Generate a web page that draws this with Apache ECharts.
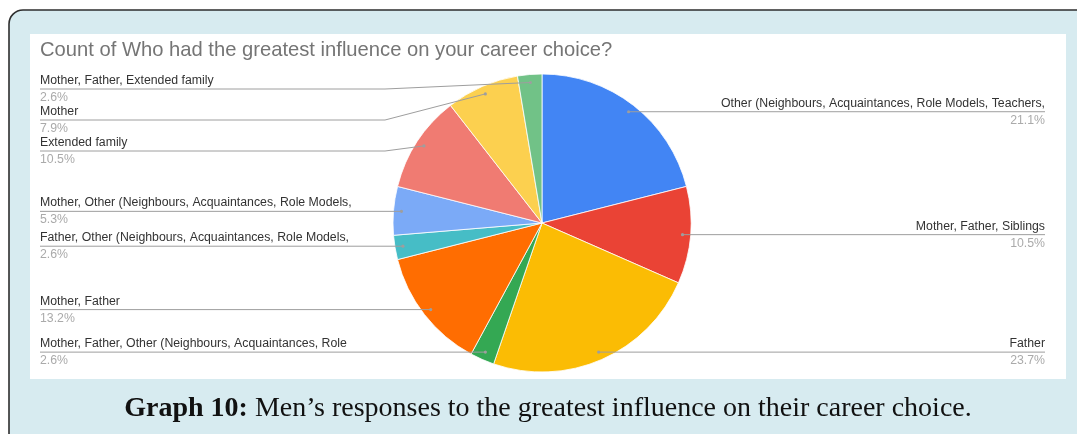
<!DOCTYPE html>
<html><head><meta charset="utf-8">
<script src="https://cdn.jsdelivr.net/npm/echarts@6/dist/echarts.min.js"></script>
<style>html,body{margin:0;padding:0;background:#fff}#c{width:1077px;height:434px}</style>
</head><body><div id="c"></div>
<script>
// ---- data ----
const categories = [
  "Other (Neighbours, Acquaintances, Role Models, Teachers,",
  "Mother, Father, Siblings",
  "Father",
  "Mother, Father, Other (Neighbours, Acquaintances, Role",
  "Mother, Father",
  "Father, Other (Neighbours, Acquaintances, Role Models,",
  "Mother, Other (Neighbours, Acquaintances, Role Models,",
  "Extended family",
  "Mother",
  "Mother, Father, Extended family"
];
const counts = [8, 4, 9, 1, 5, 1, 2, 4, 3, 1];
const sliceColors = ["#4285f4", "#ea4335", "#fbbc04", "#34a853", "#ff6d01",
                     "#46bdc6", "#7baaf7", "#f07b72", "#fcd04f", "#71c287"];
const chartTitle = "Count of Who had the greatest influence on your career choice?";
const captionBold = "Graph 10:";
const captionText = "Men\u2019s responses to the greatest influence on their career choice.";

// ---- layout constants ----
const CX = 542, CY = 223, R = 149, ANCHOR_R = 141;
const LEFT_X = 40, RIGHT_X = 1045, LABEL_TOP = 89, LABEL_GAP = 31, ELBOW_PAD = 8;
const SANS = 'Arial, "Liberation Sans", sans-serif';
const SERIF = '"Liberation Serif", serif';
const LINE_COLOR = '#9e9e9e';

const pieData = categories.map((n, i) => ({ name: n, value: counts[i], itemStyle: { color: sliceColors[i] } }));

// label anchor points (same geometry as the pie: start at 12 o'clock, clockwise)
const total = counts.reduce((a, b) => a + b, 0);
let cum = 0;
const anchors = counts.map(v => {
  const t = 2 * Math.PI * (cum + v / 2) / total; cum += v;
  return { x: CX + ANCHOR_R * Math.sin(t), y: CY - ANCHOR_R * Math.cos(t), left: Math.sin(t) < 0 };
});
const labelY = new Array(counts.length);
[true, false].forEach(side => {
  const idx = anchors.map((a, i) => i).filter(i => anchors[i].left === side)
    .sort((a, b) => anchors[a].y - anchors[b].y);
  let prev = -Infinity;
  idx.forEach(i => { const y = Math.max(anchors[i].y, prev + LABEL_GAP, LABEL_TOP); labelY[i] = y; prev = y; });
});

const anchorDots = anchors.map(a => ({
  type: 'circle', z: 100, silent: true, shape: { cx: a.x, cy: a.y, r: 1.6 }, style: { fill: LINE_COLOR }
}));

const chart = echarts.init(document.getElementById('c'), null, { renderer: 'canvas' });
chart.setOption({
  animation: false,
  backgroundColor: '#ffffff',
  title: {
    text: chartTitle, left: 40, top: 40, padding: 0,
    textStyle: { fontSize: 20.2, fontWeight: 'normal', color: '#757575', fontFamily: SANS }
  },
  graphic: [
    { type: 'rect', z: -20, silent: true, shape: { x: 9, y: 10, width: 1100, height: 460, r: 14 },
      style: { fill: '#d7ebf0', stroke: '#2e2e2e', lineWidth: 1.6 } },
    { type: 'rect', z: -19, silent: true, shape: { x: 30, y: 34, width: 1036, height: 345 },
      style: { fill: '#ffffff' } },
    { type: 'text', z: 10, silent: true, x: 548, y: 409,
      style: {
        text: '{b|' + captionBold + '}{r| ' + captionText + '}',
        align: 'center', verticalAlign: 'middle',
        rich: {
          b: { fontSize: 28, fontWeight: 'bold', fontFamily: SERIF, fill: '#111' },
          r: { fontSize: 28, fontFamily: SERIF, fill: '#111' }
        }
      } }
  ].concat(anchorDots),
  series: [
    {
      type: 'pie', z: 2, silent: true, center: [CX, CY], radius: R,
      startAngle: 90, clockwise: true, emphasis: { disabled: true },
      itemStyle: { borderColor: '#ffffff', borderWidth: 0.8 },
      label: { show: false }, labelLine: { show: false },
      data: pieData
    },
    {
      type: 'pie', z: 3, silent: true, center: [CX, CY], radius: R,
      startAngle: 90, clockwise: true, emphasis: { disabled: true },
      percentPrecision: 1, avoidLabelOverlap: false,
      itemStyle: { color: 'rgba(0,0,0,0)', borderWidth: 0 },
      label: {
        show: true, position: 'outside', overflow: 'none',
        formatter: p => '{n|' + p.name + '}\n{p|' + p.percent + '%}',
        rich: {
          n: { fontSize: 12.3, lineHeight: 17, color: '#333333', fontFamily: SANS },
          p: { fontSize: 12.3, lineHeight: 17, color: '#aaaaaa', fontFamily: SANS }
        }
      },
      labelLine: { show: true, length: 4, length2: 4, lineStyle: { color: LINE_COLOR, width: 1 } },
      labelLayout: function (p) {
        const i = p.dataIndex, a = anchors[i], y = labelY[i];
        const edgeX = a.left ? LEFT_X : RIGHT_X;
        const elbowX = a.left ? CX - R - ELBOW_PAD : CX + R + ELBOW_PAD;
        return {
          x: edgeX, y: y, align: a.left ? 'left' : 'right', verticalAlign: 'middle',
          labelLinePoints: [[a.x, a.y], [elbowX, y], [edgeX, y]]
        };
      },
      data: categories.map((n, i) => ({ name: n, value: counts[i] }))
    }
  ]
});
</script></body></html>
